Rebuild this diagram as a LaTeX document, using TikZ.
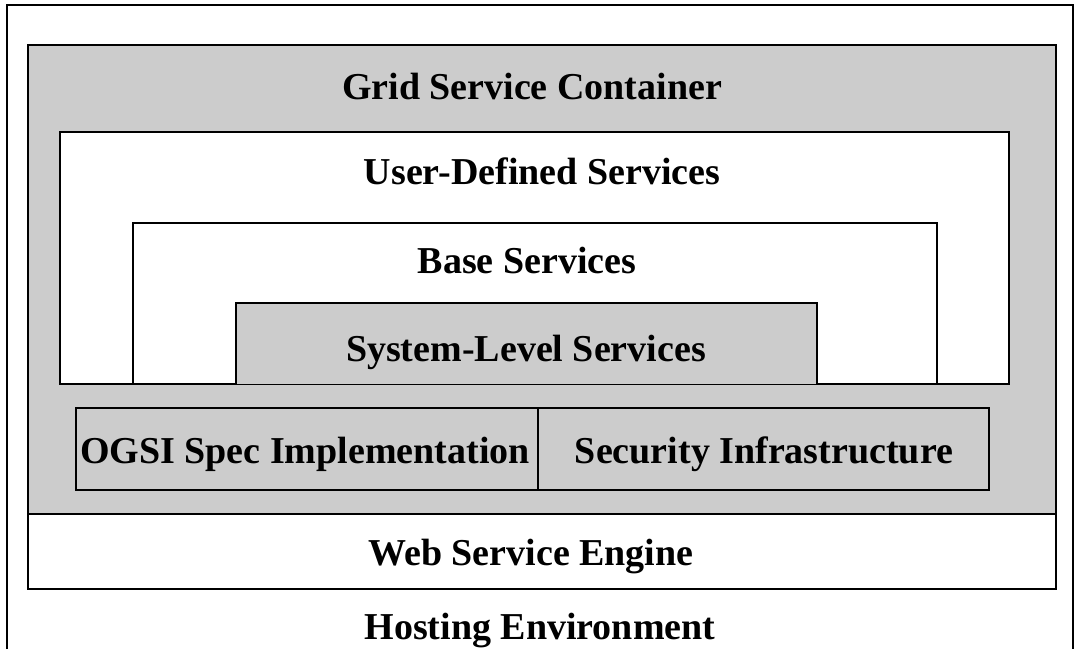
\documentclass[tikz,border=0pt]{standalone}
\usepackage{fontspec}
\setmainfont{Liberation Serif}
\usetikzlibrary{backgrounds}
\definecolor{boxgrey}{HTML}{CCCCCC}

\begin{document}
\begin{tikzpicture}[x=1pt,y=-1pt,
        lbl/.style={font=\fontsize{38}{42}\selectfont\bfseries, inner sep=0pt, anchor=base},
        frame/.style={draw=black, line width=1.2pt}]%
        \useasboundingbox (0,0) rectangle (1081,649);
        % hosting environment
        \draw[line width=1.5pt] (7,649)--(7,5)--(1073,5)--(1073,649);
        % container and engine
        \begin{scope}[frame]
            \filldraw[fill=boxgrey] (28,45) rectangle (1056,514);
            \filldraw[fill=white] (28,514) rectangle (1056,589);
            \filldraw[fill=white] (60,132) rectangle (1009,384);
            \draw (133,384)--(133,223)--(937,223)--(937,384);
            \filldraw[fill=boxgrey] (236,384)--(236,303)--(817,303)--(817,384);
            \filldraw[fill=boxgrey] (76,408) rectangle (538,490);
            \filldraw[fill=boxgrey] (538,408) rectangle (989,490);
        \end{scope}
        \node[lbl] (gsc) at (532,99) {Grid Service Container};
        \node[lbl] (uds) at (542,184) {User-Defined Services};
        \node[lbl] (bs) at (527,273) {Base Services};
        \node[lbl] (sls) at (526,361) {System-Level Services};
        \node[lbl] (ogsi) at (305,463) {OGSI Spec Implementation};
        \node[lbl] (sec) at (764,463) {Security Infrastructure};
        \node[lbl] (wse) at (531,565) {Web Service Engine};
        \node[lbl] (he) at (540,639) {Hosting Environment};
    \end{tikzpicture}
\end{document}
